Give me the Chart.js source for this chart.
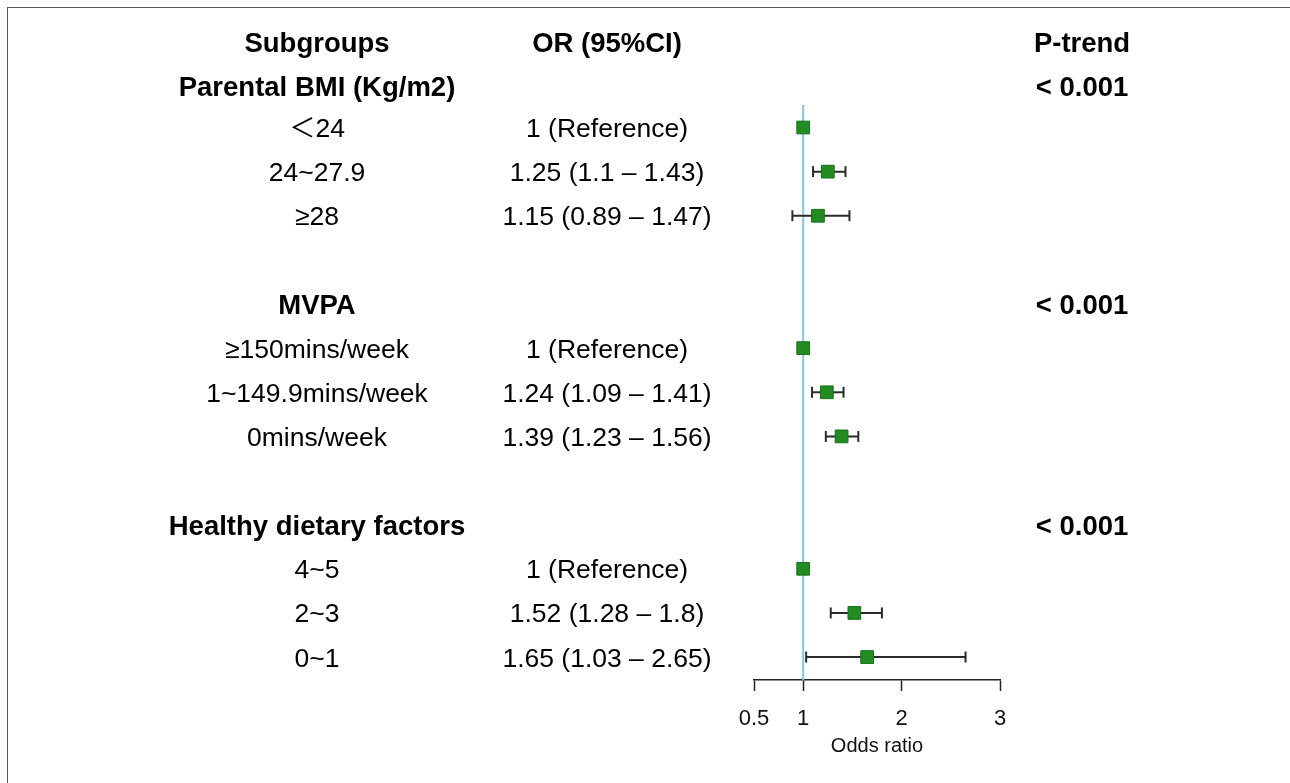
<!DOCTYPE html>
<html>
<head>
<meta charset="utf-8">
<script src="https://cdn.jsdelivr.net/npm/chart.js@4/dist/chart.umd.min.js"></script>
<style>
  html, body { margin: 0; padding: 0; background: #fff; }
  #wrap { position: relative; width: 1290px; height: 783px; }
  #frame { position: absolute; left: 7px; top: 7px; right: 0; bottom: 0;
           border-left: 1.5px solid #5a5a5a; border-top: 1.5px solid #5a5a5a; pointer-events: none; }
  canvas { position: absolute; left: 0; top: 0; }
</style>
</head>
<body>
<div id="wrap">
  <canvas id="c" width="1290" height="783"></canvas>
  <div id="frame"></div>
</div>
<script>
// ---- data ----
const subgroupLabels = ['Subgroups', 'Parental BMI (Kg/m2)', '\uFF1C24', '24~27.9', '\u226528', '',
  'MVPA', '\u2265150mins/week', '1~149.9mins/week', '0mins/week', '',
  'Healthy dietary factors', '4~5', '2~3', '0~1'];
const boldRows = [0, 1, 6, 11];
const oddsRatios = [null, null, 1, 1.25, 1.15, null, null, 1, 1.24, 1.39, null, null, 1, 1.52, 1.65];
const lowerCI   = [null, null, null, 1.1, 0.89, null, null, null, 1.09, 1.23, null, null, null, 1.28, 1.03];
const upperCI   = [null, null, null, 1.43, 1.47, null, null, null, 1.41, 1.56, null, null, null, 1.8, 2.65];
const orHeader = 'OR (95%CI)';
const pTrend = ['P-trend', '< 0.001', '', '', '', '', '< 0.001', '', '', '', '', '< 0.001', '', '', ''];
const xTicks = [0.5, 1, 2, 3];
const xTitle = 'Odds ratio';

// ---- derived text column ----
const orText = oddsRatios.map((v, i) => {
  if (i === 0) return orHeader;
  if (v === null) return '';
  if (lowerCI[i] === null) return v + ' (Reference)';
  return v + ' (' + lowerCI[i] + ' \u2013 ' + upperCI[i] + ')';
});

const FONT = '"Liberation Sans", Arial, "Noto Sans CJK SC", sans-serif';
const yMin = 1.49, yMax = 14.52;

const markerData = [];
oddsRatios.forEach((v, i) => { if (v !== null) markerData.push({ x: v, y: i }); });

const ciDatasets = [];
lowerCI.forEach((lo, i) => {
  if (lo === null) return;
  ciDatasets.push({
    type: 'line',
    data: [{ x: lo, y: i }, { x: upperCI[i], y: i }],
    borderColor: '#2b2b2b',
    borderWidth: 2,
    pointStyle: 'line',
    rotation: 90,
    pointRadius: 5.5,
    pointBorderWidth: 2,
    pointBorderColor: '#2b2b2b',
    showLine: true,
    fill: false,
    order: 1
  });
});

const textPlugin = {
  id: 'forestText',
  afterDraw(chart) {
    const ctx = chart.ctx;
    const ys = chart.scales.y;
    const reg = 26.5, bld = 27.5;
    ctx.save();
    ctx.fillStyle = '#000';
    ctx.textAlign = 'center';
    ctx.textBaseline = 'alphabetic';
    for (let i = 0; i < subgroupLabels.length; i++) {
      const shift = i < 2 ? 2.5 : 0;
      const yc = ys.getPixelForValue(i) + shift;
      const bold = boldRows.includes(i);
      let s = bold ? bld : reg;
      ctx.font = (bold ? 'bold ' : '') + s + 'px ' + FONT;
      if (subgroupLabels[i]) ctx.fillText(subgroupLabels[i], 317, yc + s * 0.358);
      s = i === 0 ? bld : reg;
      ctx.font = (i === 0 ? 'bold ' : '') + s + 'px ' + FONT;
      if (orText[i]) ctx.fillText(orText[i], 607, yc + s * 0.358);
      ctx.font = 'bold ' + bld + 'px ' + FONT;
      if (pTrend[i]) ctx.fillText(pTrend[i], 1082, yc + bld * 0.358);
    }
    ctx.restore();
  }
};

new Chart(document.getElementById('c'), {
  type: 'scatter',
  data: {
    datasets: [
      {
        data: markerData,
        pointStyle: 'rect',
        pointRadius: 9,
        backgroundColor: '#228B22',
        borderColor: '#17701a',
        borderWidth: 1,
        order: 0
      },
      ...ciDatasets,
      {
        type: 'line',
        data: [{ x: 1, y: yMin }, { x: 1, y: yMax }],
        borderColor: '#86c8d4',
        borderWidth: 2,
        pointRadius: 0,
        showLine: true,
        fill: false,
        order: 2
      }
    ]
  },
  options: {
    responsive: false,
    animation: false,
    layout: { padding: { left: 754, right: 290, top: 105, bottom: 0 } },
    plugins: { legend: { display: false }, tooltip: { enabled: false } },
    scales: {
      x: {
        type: 'linear',
        min: 0.5,
        max: 3,
        afterBuildTicks(scale) { scale.ticks = xTicks.map(v => ({ value: v })); },
        afterFit(scale) { scale.height = 103; },
        grid: { display: true, drawOnChartArea: false, drawTicks: true, tickLength: 11, tickColor: '#222', tickWidth: 1.5 },
        border: { display: true, color: '#222', width: 1.5 },
        ticks: {
          color: '#111',
          padding: 15,
          font: { family: FONT, size: 22 },
          callback: v => String(v)
        },
        title: {
          display: true,
          text: xTitle,
          color: '#111',
          font: { family: FONT, size: 20 },
          padding: { top: 0, bottom: 25 }
        }
      },
      y: {
        type: 'linear',
        display: false,
        reverse: true,
        min: yMin,
        max: yMax
      }
    }
  },
  plugins: [textPlugin]
});
</script>
</body>
</html>
